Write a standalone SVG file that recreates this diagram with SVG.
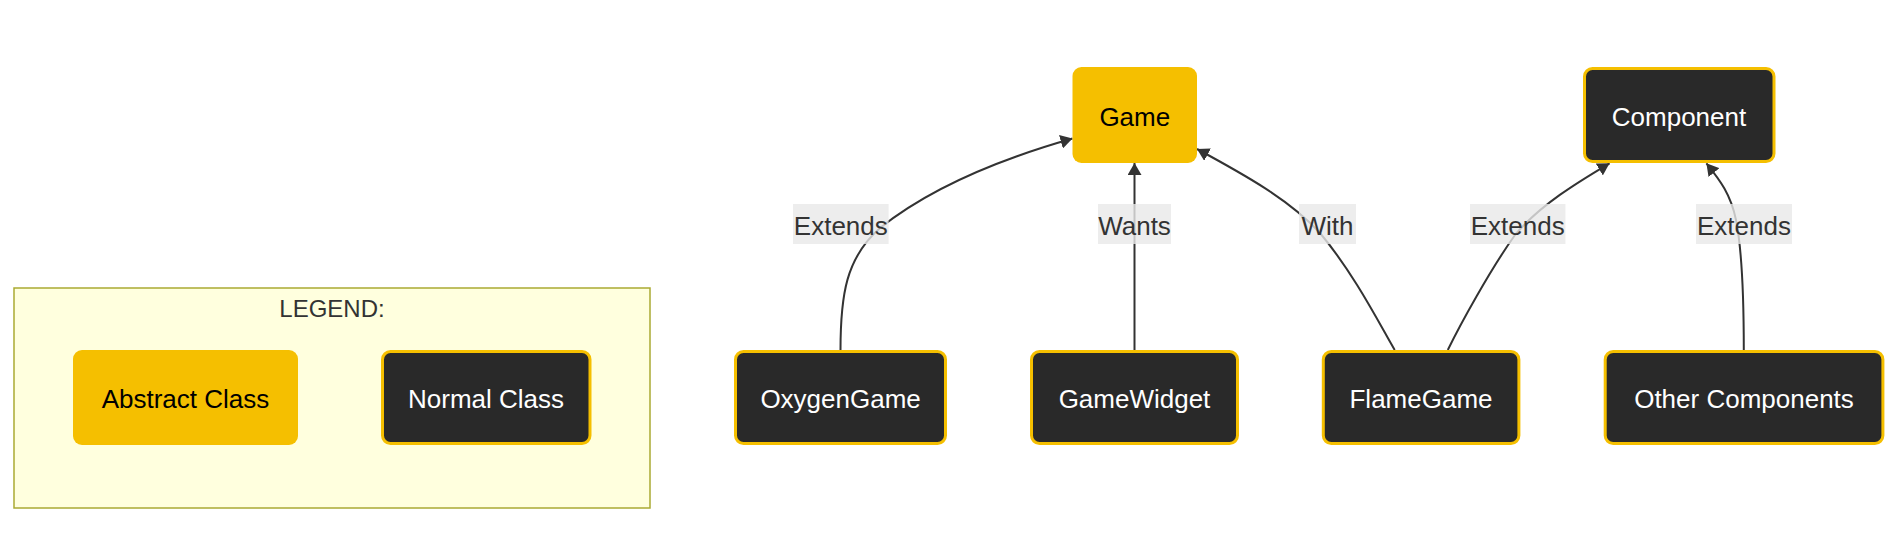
<svg xmlns="http://www.w3.org/2000/svg" width="1899" height="534" viewBox="0 0 1899 534">
<style>
  .abs { fill: #F5BF00; }
  .norm { fill: #292929; stroke: #F5BF00; stroke-width: 3; }
  .t { font-family: "Liberation Sans", Arial, sans-serif; font-size: 26px; text-anchor: middle; }
  .tabs { fill: #000000; }
  .tnorm { fill: #FFFFFF; }
  .edge { fill: none; stroke: #333333; stroke-width: 2; }
  .lblbg { fill: rgba(232,232,232,0.8); }
  .lbl { fill: #333333; }
  .cluster { fill: #FFFFDE; stroke: #AAAA33; stroke-width: 1.5; }
  .ctitle { font-family: "Liberation Sans", Arial, sans-serif; font-size: 24px; text-anchor: middle; fill: #333333; }
</style>
<defs>
  <marker id="arrow" viewBox="0 0 12 14" refX="12" refY="7" markerUnits="userSpaceOnUse" markerWidth="12" markerHeight="14" orient="auto">
    <path d="M0,0 L12,7 L0,14 z" fill="#333333"/>
  </marker>
</defs>
<rect width="1899" height="534" fill="#FFFFFF"/>

<g id="legend">
  <rect class="cluster" x="14" y="288" width="636" height="220"/>
  <text class="ctitle" x="332" y="317">LEGEND:</text>
  <g id="node-abstract">
    <rect class="abs" x="73" y="350" width="225" height="95" rx="9"/>
    <text class="t tabs" x="185.5" y="408">Abstract Class</text>
  </g>
  <g id="node-normal">
    <rect class="norm" x="382.5" y="351.5" width="207.5" height="92" rx="8"/>
    <text class="t tnorm" x="486" y="408">Normal Class</text>
  </g>
</g>

<g id="connectors">
  <path class="edge" marker-end="url(#arrow)" d="M840.5 350 C840.5 295, 846 258, 880 228 C925 192, 990 162, 1072.5 138.5"/>
  <path class="edge" marker-end="url(#arrow)" d="M1134.5 350 L1134.5 163"/>
  <path class="edge" marker-end="url(#arrow)" d="M1394.7 350 C1380 325, 1355 275, 1320 233 C1290 200, 1245 175, 1197 149"/>
  <path class="edge" marker-end="url(#arrow)" d="M1447.8 350 C1460 325, 1490 270, 1515 235 C1540 205, 1578 182, 1609.6 163.3"/>
  <path class="edge" marker-end="url(#arrow)" d="M1743.8 350 C1743.8 300, 1742 250, 1736 220 C1731 195, 1720 180, 1706.4 163.3"/>
</g>

<g id="edge-labels">
  <g id="label-extends-1">
    <rect class="lblbg" x="793" y="204" width="95.6" height="40"/>
    <text class="t lbl" x="840.8" y="234.5">Extends</text>
  </g>
  <g id="label-wants">
    <rect class="lblbg" x="1098" y="204" width="73" height="40"/>
    <text class="t lbl" x="1134.5" y="234.5">Wants</text>
  </g>
  <g id="label-with">
    <rect class="lblbg" x="1299" y="204" width="57" height="40"/>
    <text class="t lbl" x="1327.5" y="234.5">With</text>
  </g>
  <g id="label-extends-2">
    <rect class="lblbg" x="1470" y="204" width="95.4" height="40"/>
    <text class="t lbl" x="1517.7" y="234.5">Extends</text>
  </g>
  <g id="label-extends-3">
    <rect class="lblbg" x="1696" y="204" width="96" height="40"/>
    <text class="t lbl" x="1744" y="234.5">Extends</text>
  </g>
</g>

<g id="node-game">
  <rect class="abs" x="1072.5" y="67" width="124.5" height="96" rx="9"/>
  <text class="t tabs" x="1134.8" y="125.5">Game</text>
</g>
<g id="node-component">
  <rect class="norm" x="1584.5" y="68.5" width="189.5" height="93" rx="8"/>
  <text class="t tnorm" x="1679" y="125.5">Component</text>
</g>
<g id="node-oxygengame">
  <rect class="norm" x="735.5" y="351.5" width="210" height="92" rx="8"/>
  <text class="t tnorm" x="840.6" y="408">OxygenGame</text>
</g>
<g id="node-gamewidget">
  <rect class="norm" x="1031.5" y="351.5" width="206" height="92" rx="8"/>
  <text class="t tnorm" x="1134.5" y="408">GameWidget</text>
</g>
<g id="node-flamegame">
  <rect class="norm" x="1323.3" y="351.5" width="195.6" height="92" rx="8"/>
  <text class="t tnorm" x="1421" y="408">FlameGame</text>
</g>
<g id="node-othercomponents">
  <rect class="norm" x="1605.2" y="351.5" width="277.7" height="92" rx="8"/>
  <text class="t tnorm" x="1744" y="408">Other Components</text>
</g>
</svg>
